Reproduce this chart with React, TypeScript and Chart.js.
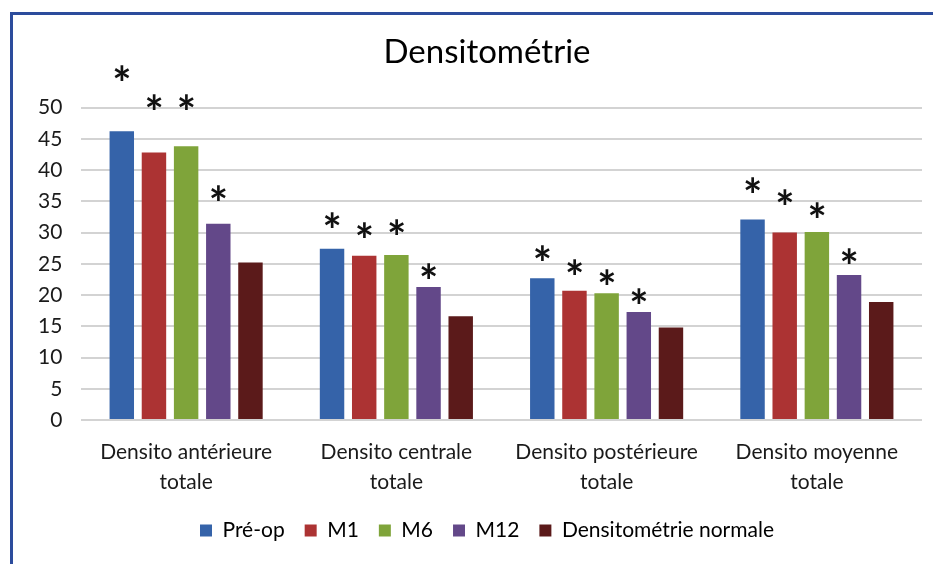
import React, { useEffect, useRef } from "react";
import { Chart, registerables } from "chart.js";

Chart.register(...registerables);

// ---- Data ----
const categories = [
  ["Densito antérieure", "totale"],
  ["Densito centrale", "totale"],
  ["Densito postérieure", "totale"],
  ["Densito moyenne", "totale"],
];
const seriesNames = ["Pré-op", "M1", "M6", "M12", "Densitométrie normale"];
const preOp = [46.2, 27.4, 22.7, 32.1];
const m1 = [42.8, 26.3, 20.7, 30.0];
const m6 = [43.8, 26.4, 20.3, 30.1];
const m12 = [31.4, 21.3, 17.3, 23.2];
const normale = [25.2, 16.6, 14.8, 18.9];

// significance asterisk levels (value units) for Pré-op, M1, M6, M12
const starPreOp = [55.3, 31.8, 26.4, 37.4];
const starM1 = [50.6, 30.1, 24.2, 35.4];
const starM6 = [50.6, 30.6, 22.6, 33.4];
const starM12 = [36.1, 23.6, 19.6, 26.0];

const yMin = 0;
const yMax = 50;
const yStep = 5;
const titleText = "Densitométrie";

const colors = ["#3563a9", "#ac3333", "#7fa43a", "#634889", "#5b1a1a"];
const FONT = "Lato, 'Open Sans', sans-serif";

const starPlugin = {
  id: "stars",
  afterDatasetsDraw(chart: any) {
    const ctx = chart.ctx;
    const yScale = chart.scales.y;
    const levels = [starPreOp, starM1, starM6, starM12];
    ctx.save();
    ctx.fillStyle = "#111";
    ctx.font = `bold 100px ${FONT}`;
    const m0 = ctx.measureText("*");
    const w0 = m0.actualBoundingBoxLeft + m0.actualBoundingBoxRight;
    const size = (100 * 15) / (w0 || 40);
    ctx.font = `bold ${size}px ${FONT}`;
    const m = ctx.measureText("*");
    ctx.textAlign = "left";
    ctx.textBaseline = "alphabetic";
    levels.forEach((lv, di) => {
      const meta = chart.getDatasetMeta(di);
      lv.forEach((v, i) => {
        const bar = meta.data[i];
        if (!bar) return;
        const cx = bar.x;
        const cy = yScale.getPixelForValue(v);
        const x = cx - (m.actualBoundingBoxRight - m.actualBoundingBoxLeft) / 2;
        const y = cy + (m.actualBoundingBoxAscent - m.actualBoundingBoxDescent) / 2 + 13;
        ctx.fillText("*", x, y);
      });
    });
    ctx.restore();
  },
};

export default function App() {
  const ref = useRef<HTMLCanvasElement | null>(null);

  useEffect(() => {
    if (!ref.current) return;
    const values = [preOp, m1, m6, m12, normale];
    const chart = new Chart(ref.current, {
      type: "bar",
      data: {
        labels: categories as any,
        datasets: seriesNames.map((name, i) => ({
          label: name,
          data: values[i],
          backgroundColor: colors[i],
          borderWidth: 0,
          categoryPercentage: 0.765,
          barPercentage: 0.76,
        })),
      },
      options: {
        responsive: false,
        animation: false,
        devicePixelRatio: 1,
        layout: { padding: { left: 52, right: 11, top: 0, bottom: 13 } },
        plugins: {
          title: {
            display: true,
            text: titleText,
            color: "#000",
            font: { family: FONT, size: 33, weight: "normal" as any },
            padding: { top: 33, bottom: 35 },
          },
          legend: {
            position: "bottom",
            labels: {
              boxWidth: 12,
              boxHeight: 12,
              color: "#000",
              font: { family: FONT, size: 21 },
              padding: 20,
            },
          },
          tooltip: { enabled: false },
        },
        scales: {
          x: {
            grid: { display: false, drawTicks: false },
            border: { display: false },
            ticks: {
              color: "#1a1a1a",
              font: { family: FONT, size: 21, lineHeight: 1.4 },
              padding: 18,
              maxRotation: 0,
              autoSkip: false,
            },
            afterFit(s: any) {
              s.height = 80;
            },
          },
          y: {
            min: yMin,
            max: yMax,
            grid: { color: "#d3d3d3", lineWidth: 2, drawTicks: false },
            border: { display: false },
            ticks: {
              stepSize: yStep,
              color: "#1a1a1a",
              font: { family: FONT, size: 21 },
              mirror: true,
              crossAlign: "far",
              padding: -43,
            },
            afterFit(s: any) {
              s.width = 29;
            },
          },
        } as any,
      },
      plugins: [starPlugin],
    });
    return () => chart.destroy();
  }, []);

  return (
    <div
      style={{
        position: "fixed",
        left: 0,
        top: 0,
        width: 933,
        height: 564,
        overflow: "hidden",
        background: "#fff",
      }}
    >
      <div
        style={{
          position: "absolute",
          left: 10,
          top: 12,
          width: 1000,
          height: 700,
          border: "3px solid #2c4c9c",
          boxSizing: "border-box",
        }}
      />
      <canvas
        ref={ref}
        width={933}
        height={564}
        style={{ position: "absolute", left: 0, top: 0, width: 933, height: 564 }}
      />
    </div>
  );
}
